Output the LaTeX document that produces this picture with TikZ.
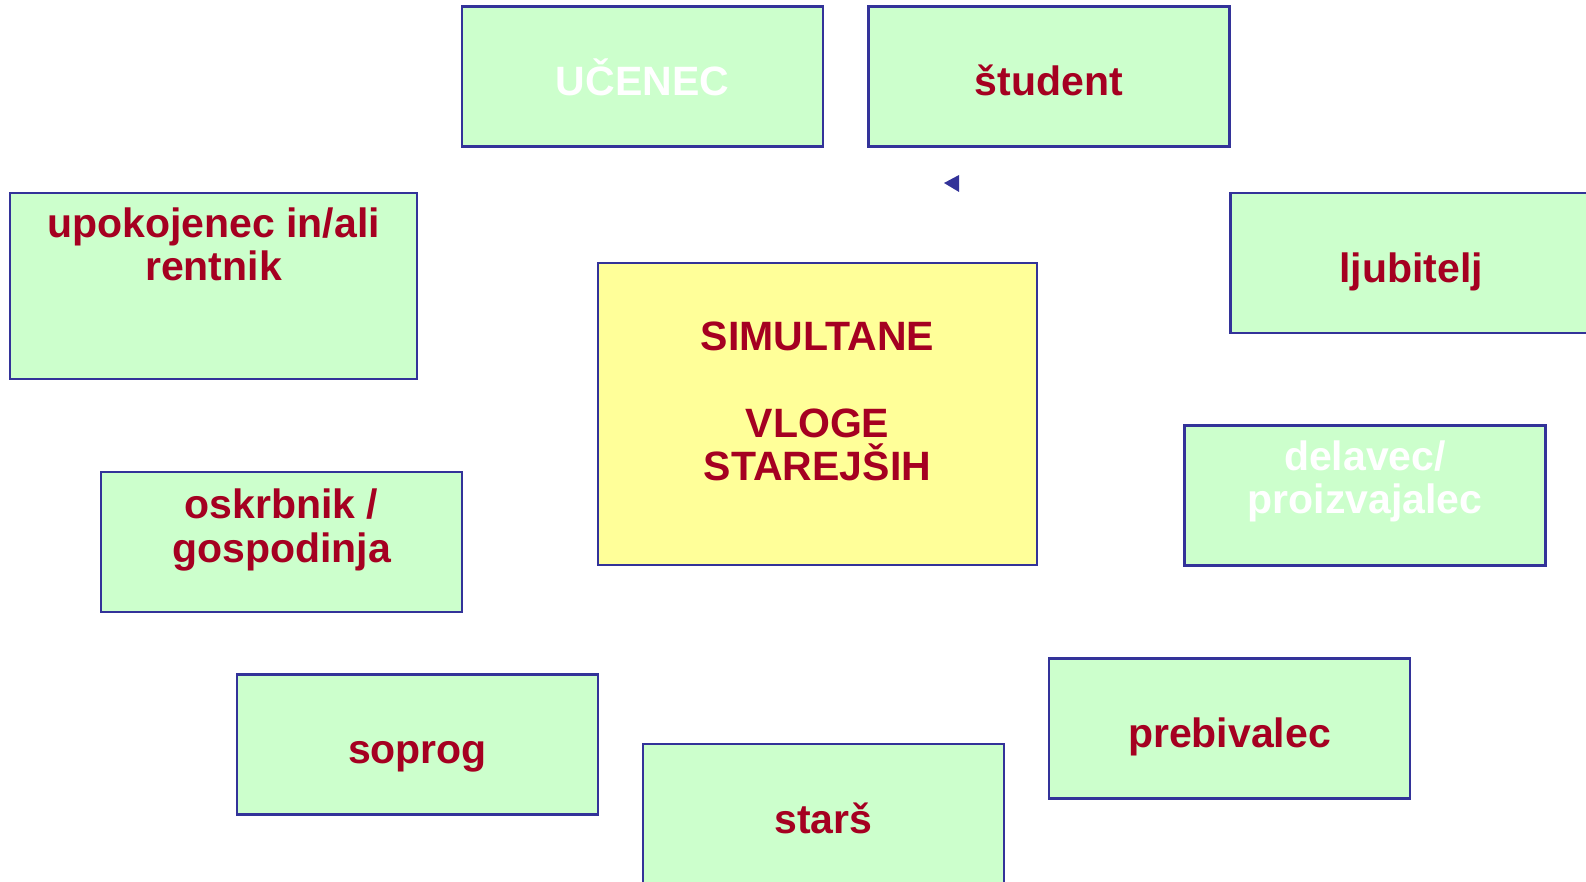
\documentclass[tikz,border=0pt]{standalone}
\usepackage{fontspec}
\setmainfont{Liberation Sans}
\usepackage{tikz}
\usetikzlibrary{positioning}
\definecolor{boxgreen}{RGB}{204,255,204}
\definecolor{boxyellow}{RGB}{255,255,153}
\definecolor{rimblue}{RGB}{51,51,153}
\definecolor{rolered}{RGB}{165,0,33}
\begin{document}
\begin{tikzpicture}[x=0.5pt, y=-0.5pt,
    rolebox/.style={draw=rimblue, fill=boxgreen, line width=1.2pt, inner sep=0pt,
      minimum width=180.5pt, minimum height=70pt},
    rolename/.style={text=rolered, anchor=base, align=center, inner sep=0pt,
      font=\bfseries\fontsize{20.5}{21.75}\selectfont}]

                \useasboundingbox (0,0) rectangle (1586,882);
                \clip (0,0) rectangle (1586,882);

                % Boxes
                \node at (642.5,76.5) (ucenec) [rolebox] {};
                \node at (1049,76.5) (student) [rolebox] {};
                \node at (213.5,286) (upokojenec) [rolebox, minimum width=203.5pt, minimum height=93pt] {};
                \node at (1411,263) (ljubitelj) [rolebox] {};
                \node at (817.5,414) (vloge) [rolebox, fill=boxyellow, minimum width=219.5pt, minimum height=151pt] {};
                \node at (1365,495.5) (delavec) [rolebox] {};
                \node at (281.5,542) (oskrbnik) [rolebox] {};
                \node at (417.5,744.5) (soprog) [rolebox] {};
                \node at (823.5,814) (stars) [rolebox] {};
                \node at (1229.5,728.5) (prebivalec) [rolebox] {};

                % Texts (multi-line ones sit on their last baseline)
                \node at (642.5,96) (ucenec_text) [rolename, text=white] {UČENEC};
                \node at (1049,95.5) (student_text) [rolename] {študent};
                \node at (213.5,281) (upokojenec_text) [rolename] {upokojenec in/ali\\rentnik};
                \node at (1411,282.5) (ljubitelj_text) [rolename] {ljubitelj};
                \node at (817.5,480.5) (vloge_text) [rolename] {SIMULTANE\\[21.75pt]VLOGE\\STAREJŠIH};
                \node at (1365,513.5) (delavec_text) [rolename, text=white] {delavec/\\proizvajalec};
                \node at (281.5,562) (oskrbnik_text) [rolename] {oskrbnik /\\gospodinja};
                \node at (417.5,763) (soprog_text) [rolename] {soprog};
                \node at (823.5,833.5) (stars_text) [rolename] {starš};
                \node at (1229.5,747) (prebivalec_text) [rolename] {prebivalec};

                % Arrow tip
                \fill[rimblue] (944,183) -- (959,175) -- (959,192) -- cycle;

            \end{tikzpicture}
\end{document}
